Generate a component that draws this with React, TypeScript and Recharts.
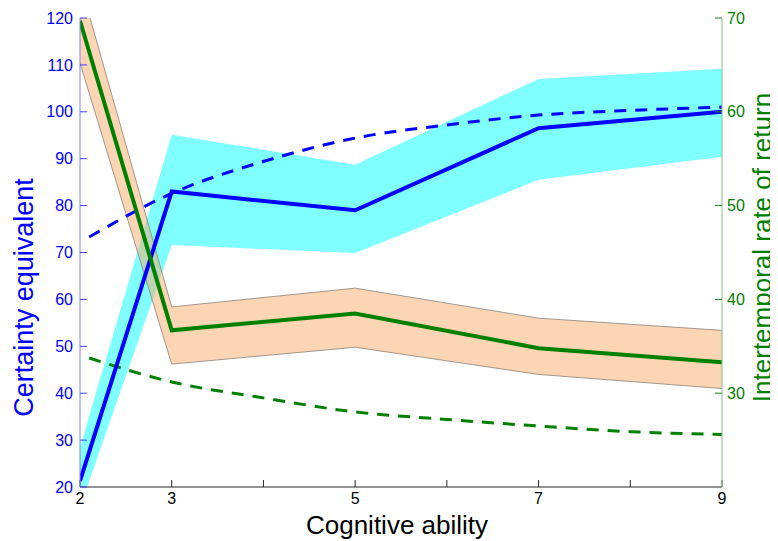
import React from 'react'
import { ComposedChart, Area, Line, XAxis, YAxis } from 'recharts'

// cognitive ability groups where the estimates sit
const abilityX = [2, 3, 5, 7, 9]
// certainty equivalent (left axis)
const ceMean = [21.3, 83, 79, 96.5, 100]
const ceLow = [15.7, 71.6, 69.9, 85.5, 90.4]
const ceHigh = [28.4, 95.1, 88.7, 107.0, 109.2]
// intertemporal rate of return (right axis)
const irrMean = [69.7, 36.7, 38.5, 34.8, 33.3]
const irrLow = [65.2, 33.1, 34.9, 32.0, 30.5]
const irrHigh = [73.8, 39.2, 41.2, 38.0, 36.7]

// fitted (dashed) curves
const fitX = [2.1, 3, 4, 5, 6, 7, 8, 9]
const ceFit = [73.3, 82.6, 89.4, 94.4, 97.2, 99.3, 100.3, 101.0]
const irrFit = [33.75, 31.2, 29.5, 28.0, 27.2, 26.5, 25.9, 25.6]

const xTicks = [2, 3, 4, 5, 6, 7, 8, 9]
const xLabelled = [2, 3, 5, 7, 9]
const leftTicks = [20, 30, 40, 50, 60, 70, 80, 90, 100, 110, 120]
const rightTicks = [30, 40, 50, 60, 70]

const bandData = abilityX.map((x, i) => ({
  x,
  ce: ceMean[i],
  ceBand: [ceLow[i], ceHigh[i]],
  irr: irrMean[i],
  irrBand: [irrLow[i], irrHigh[i]],
}))
const fitData = fitX.map((x, i) => ({ x, ceFit: ceFit[i], irrFit: irrFit[i] }))

const FONT = '"Liberation Sans", Arial, sans-serif'
const BLUE = '#0000ff'
const GREEN = '#008000'

const leftLabel = (props: any) => {
  const vb = props.viewBox
  const x = vb.x + 25
  const y = vb.y + vb.height / 2 + 45
  return (
    <text x={x} y={y} transform={`rotate(-90 ${x} ${y})`} textAnchor="middle"
      fill={BLUE} fontSize={27} fontFamily={FONT}>Certainty equivalent</text>
  )
}
const rightLabel = (props: any) => {
  const vb = props.viewBox
  const x = vb.x + 49
  const y = vb.y + vb.height / 2 - 5
  return (
    <text x={x} y={y} transform={`rotate(-90 ${x} ${y})`} textAnchor="middle"
      fill={GREEN} fontSize={26} fontFamily={FONT}>Intertemporal rate of return</text>
  )
}
const bottomLabel = (props: any) => {
  const vb = props.viewBox
  return (
    <text x={vb.x + vb.width / 2 - 4} y={vb.y + vb.height - 7} textAnchor="middle"
      fill="#000" fontSize={26} fontFamily={FONT}>Cognitive ability</text>
  )
}

export default function App() {
  return (
    <ComposedChart width={770} height={533} data={bandData}
      margin={{ top: 10, right: 0, bottom: 0, left: 0 }}
      style={{ fontFamily: FONT, background: '#fff' }}>
      <XAxis dataKey="x" type="number" domain={[2, 9]} ticks={xTicks} allowDataOverflow
        height={54} tickSize={-7} tickMargin={13} interval={0}
        tickFormatter={(v: number) => (xLabelled.includes(v) ? String(v) : '')}
        stroke="#262626" tick={{ fill: '#000', fontSize: 16 }} label={bottomLabel} />
      <XAxis xAxisId="top" orientation="top" type="number" domain={[2, 9]} ticks={xTicks}
        height={0} tickSize={-7} tick={false} stroke="#808080" />
      <YAxis yAxisId="left" domain={[20, 120]} ticks={leftTicks} allowDataOverflow
        width={72} tickSize={-7} tickMargin={14} interval={0}
        stroke="#8080ff" tickLine={{ stroke: '#4040ff' }}
        tick={{ fill: BLUE, fontSize: 16 }} label={leftLabel} />
      <YAxis yAxisId="leftEcho" orientation="right" domain={[20, 120]} ticks={leftTicks}
        width={0} tickSize={-7} tick={false} axisLine={false}
        tickLine={{ stroke: '#6060ff' }} />
      <YAxis yAxisId="right" orientation="right" domain={[20, 70]} ticks={rightTicks} allowDataOverflow
        width={56} tickSize={-7} tickMargin={12} interval={0}
        stroke="#80c080" tickLine={{ stroke: '#208020' }}
        tick={{ fill: GREEN, fontSize: 16 }} label={rightLabel} />

      <Area yAxisId="left" type="linear" dataKey="ceBand" fill="#00ffff" fillOpacity={0.5}
        stroke="none" isAnimationActive={false} />
      <Area yAxisId="right" type="linear" dataKey="irrBand" fill="#f9ab69" fillOpacity={0.5}
        stroke="#8a8278" strokeWidth={0.8} isAnimationActive={false} />
      <Line yAxisId="left" data={fitData} type="monotone" dataKey="ceFit" stroke={BLUE}
        strokeWidth={3} strokeDasharray="12 9" dot={false} isAnimationActive={false} />
      <Line yAxisId="right" data={fitData} type="monotone" dataKey="irrFit" stroke={GREEN}
        strokeWidth={3} strokeDasharray="12 9" dot={false} isAnimationActive={false} />
      <Line yAxisId="left" type="linear" dataKey="ce" stroke={BLUE} strokeWidth={4}
        dot={false} isAnimationActive={false} />
      <Line yAxisId="right" type="linear" dataKey="irr" stroke={GREEN} strokeWidth={4}
        dot={false} isAnimationActive={false} />
    </ComposedChart>
  )
}
